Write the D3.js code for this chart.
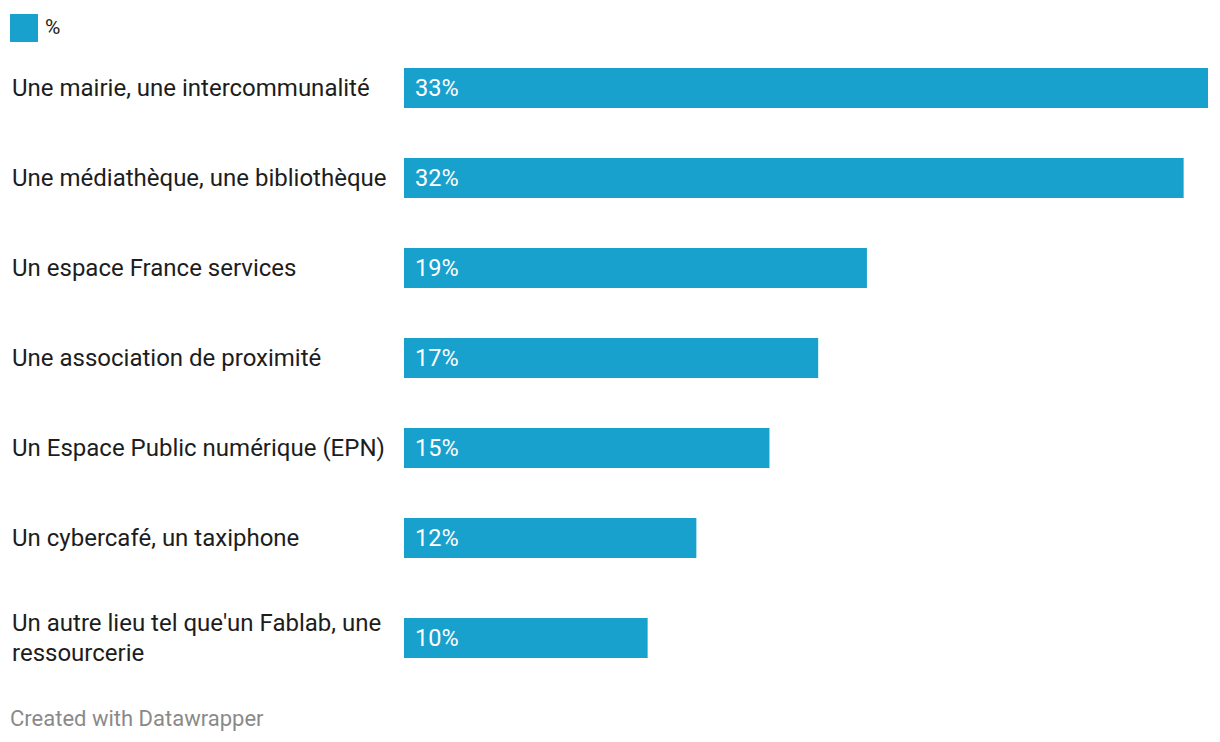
<!DOCTYPE html>
<html><head><meta charset="utf-8">
<script src="https://cdn.jsdelivr.net/npm/d3@7"></script>
<style>body{margin:0;background:#fff;font-family:Roboto,"Noto Sans",sans-serif;}</style>
</head><body><svg id="c" width="1220" height="742"></svg>
<script>
const categories = [
  ["Une mairie, une intercommunalité"],
  ["Une médiathèque, une bibliothèque"],
  ["Un espace France services"],
  ["Une association de proximité"],
  ["Un Espace Public numérique (EPN)"],
  ["Un cybercafé, un taxiphone"],
  ["Un autre lieu tel que'un Fablab, une", "ressourcerie"]
];
const values = [33, 32, 19, 17, 15, 12, 10];
const seriesName = "%";
const footer = "Created with Datawrapper";

const color = "#18a1cd";
const svg = d3.select("#c");
const x = d3.scaleLinear().domain([0, d3.max(values)]).range([404, 1208]);

// row layout: base height 90, extra 10 for two-line labels
let y0 = 68; const tops = [];
categories.forEach((c, i) => { if (c.length > 1) y0 += 10; tops.push(y0); y0 += 90; });
const barH = 40;

// legend
svg.append("rect").attr("x", 10).attr("y", 14).attr("width", 28).attr("height", 28).attr("fill", color);
svg.append("text").attr("x", 45).attr("y", 34).attr("font-size", 21).attr("fill", "#1d1d1d").text(seriesName);

const g = svg.selectAll("g.row").data(values).join("g").attr("class", "row");
g.append("rect").attr("x", x(0)).attr("y", (d, i) => tops[i]).attr("height", barH)
  .attr("width", d => x(d) - x(0)).attr("fill", color);
g.append("text").attr("x", x(0) + 11).attr("y", (d, i) => tops[i] + barH / 2 + 8)
  .attr("font-size", 23.5).attr("fill", "#fff").text(d => d + "%");
g.each(function(d, i) {
  const lines = categories[i];
  const t = d3.select(this).append("text").attr("font-size", 24).attr("fill", "#1d1d1d");
  const mid = tops[i] + barH / 2 + 8 - (lines.length - 1) * 15;
  lines.forEach((l, j) => t.append("tspan").attr("x", 12).attr("y", mid + j * 30).text(l));
});

svg.append("text").attr("x", 10).attr("y", 726).attr("font-size", 22).attr("fill", "#8a8a8a").text(footer);
</script></body></html>
